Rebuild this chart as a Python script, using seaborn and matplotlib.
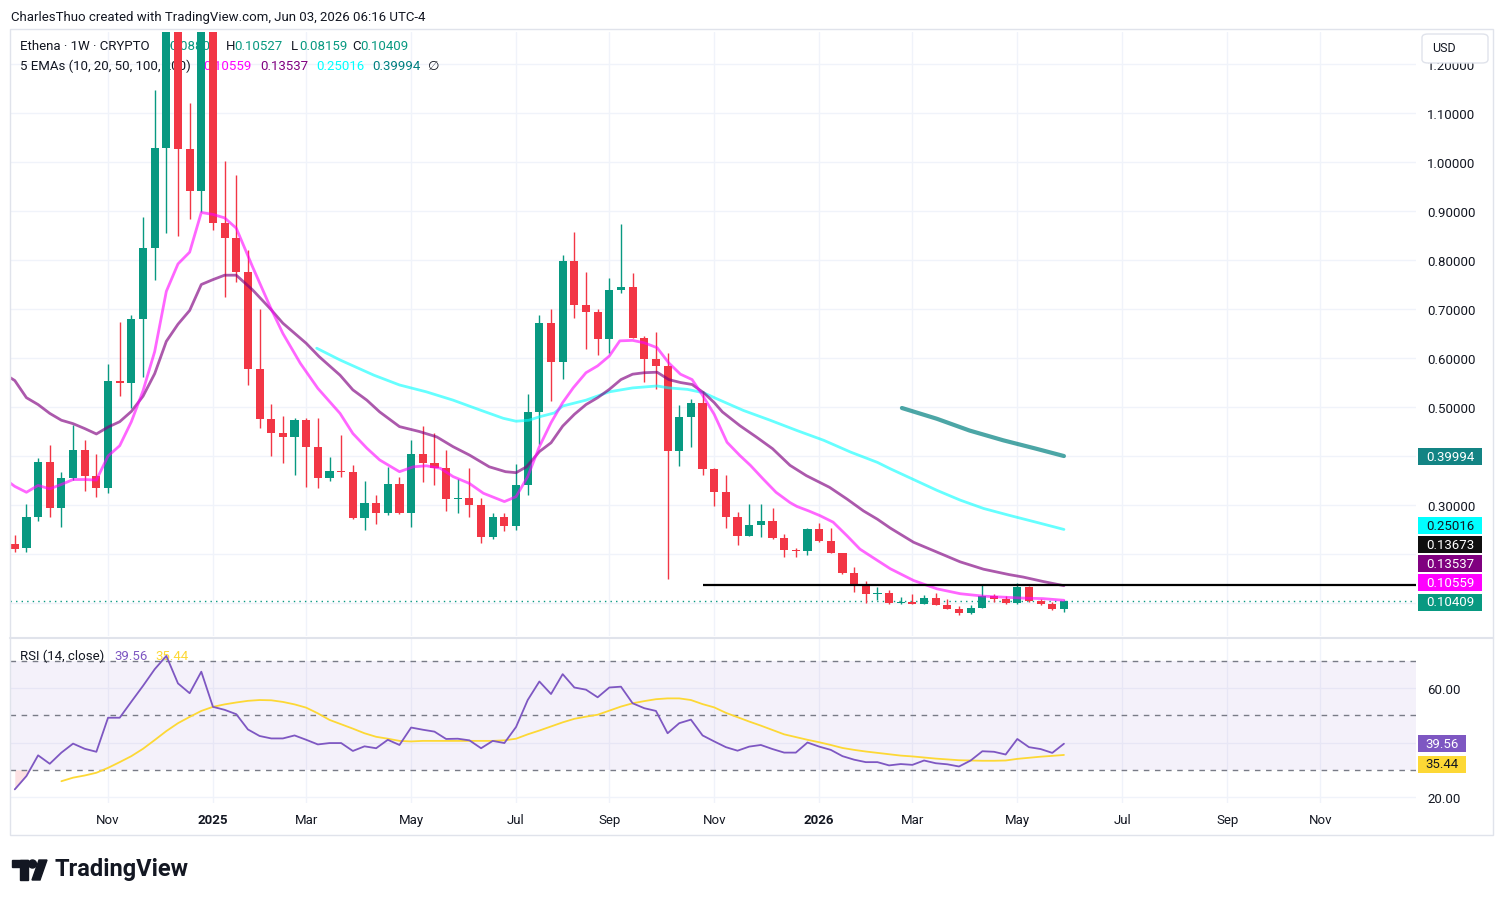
import numpy as np
import pandas as pd
import matplotlib
matplotlib.use("Agg")
import matplotlib.pyplot as plt
import matplotlib.patches as mpatches
from matplotlib.lines import Line2D
import seaborn as sns

# -------------------------------
# Data: Ethena 1W candles, first bar = week of 2024-09-09
# -------------------------------
opens = [0.221, 0.212, 0.275, 0.387, 0.293, 0.356, 0.412, 0.360, 0.335, 0.554,
         0.550, 0.680, 0.825, 1.028, 1.30, 1.026, 0.940, 1.29, 0.876, 0.844,
         0.776, 0.577, 0.475, 0.446, 0.439, 0.473, 0.418, 0.356, 0.370, 0.368,
         0.273, 0.305, 0.283, 0.343, 0.283, 0.405, 0.386, 0.376, 0.312, 0.314,
         0.301, 0.235, 0.275, 0.258, 0.341, 0.490, 0.671, 0.592, 0.798, 0.708,
         0.694, 0.638, 0.738, 0.744, 0.641, 0.599, 0.584, 0.410, 0.480, 0.509,
         0.374, 0.326, 0.275, 0.236, 0.259, 0.267, 0.232, 0.209, 0.206, 0.251,
         0.227, 0.203, 0.161, 0.135, 0.118, 0.121, 0.100, 0.103, 0.098, 0.110,
         0.095, 0.088, 0.080, 0.090, 0.114, 0.108, 0.100, 0.133, 0.104, 0.097, 0.08803]
highs = [0.239, 0.303, 0.396, 0.422, 0.368, 0.463, 0.433, 0.405, 0.587, 0.674,
         0.688, 0.888, 1.146, 1.36, 1.33, 1.121, 1.32, 1.30, 1.003, 0.973,
         0.820, 0.699, 0.506, 0.482, 0.477, 0.477, 0.477, 0.397, 0.443, 0.382,
         0.349, 0.320, 0.378, 0.358, 0.433, 0.461, 0.446, 0.412, 0.353, 0.375,
         0.314, 0.283, 0.284, 0.383, 0.526, 0.687, 0.701, 0.810, 0.857, 0.776,
         0.699, 0.764, 0.873, 0.774, 0.645, 0.653, 0.611, 0.505, 0.517, 0.533,
         0.375, 0.361, 0.285, 0.302, 0.302, 0.294, 0.241, 0.213, 0.253, 0.263,
         0.253, 0.203, 0.174, 0.144, 0.133, 0.126, 0.112, 0.119, 0.116, 0.120,
         0.109, 0.094, 0.095, 0.137, 0.119, 0.114, 0.141, 0.134, 0.109, 0.102, 0.10527]
lows = [0.204, 0.205, 0.267, 0.275, 0.256, 0.351, 0.328, 0.317, 0.324, 0.522,
        0.498, 0.561, 0.760, 0.855, 0.848, 0.883, 0.897, 0.862, 0.725, 0.755,
        0.545, 0.458, 0.400, 0.385, 0.361, 0.336, 0.334, 0.348, 0.358, 0.271,
        0.250, 0.261, 0.280, 0.282, 0.256, 0.346, 0.341, 0.288, 0.283, 0.276,
        0.222, 0.230, 0.246, 0.249, 0.320, 0.424, 0.512, 0.558, 0.682, 0.619,
        0.606, 0.610, 0.733, 0.640, 0.551, 0.537, 0.150, 0.380, 0.419, 0.361,
        0.299, 0.254, 0.219, 0.236, 0.234, 0.230, 0.193, 0.193, 0.198, 0.225,
        0.203, 0.159, 0.123, 0.101, 0.107, 0.099, 0.097, 0.097, 0.097, 0.095,
        0.087, 0.076, 0.078, 0.089, 0.103, 0.098, 0.099, 0.102, 0.095, 0.085, 0.08159]
closes = [0.211, 0.275, 0.387, 0.293, 0.356, 0.412, 0.360, 0.335, 0.554, 0.550,
          0.680, 0.825, 1.028, 1.30, 1.026, 0.940, 1.29, 0.876, 0.844, 0.776,
          0.577, 0.475, 0.446, 0.439, 0.473, 0.418, 0.356, 0.370, 0.368, 0.273,
          0.305, 0.283, 0.343, 0.283, 0.405, 0.386, 0.376, 0.312, 0.314, 0.301,
          0.235, 0.275, 0.258, 0.341, 0.490, 0.671, 0.592, 0.798, 0.708, 0.694,
          0.638, 0.738, 0.744, 0.641, 0.599, 0.584, 0.410, 0.480, 0.509, 0.374,
          0.326, 0.275, 0.236, 0.259, 0.267, 0.232, 0.209, 0.206, 0.251, 0.227,
          0.203, 0.161, 0.135, 0.118, 0.120, 0.100, 0.103, 0.098, 0.110, 0.095,
          0.088, 0.080, 0.090, 0.114, 0.108, 0.100, 0.133, 0.104, 0.097, 0.088, 0.10409]

# EMA lines read at bar positions
ema10_x = [-0.4, 0, 1, 2, 3, 4, 5, 6, 7, 8, 9, 10, 11, 12, 13, 14, 15, 16, 17, 18, 19,
           20.4, 21.9, 23, 24.5, 26, 27.9, 29, 30.2, 31.3, 32.5, 33, 34.2, 35.3, 36.5, 37.6, 39, 40.2, 42, 43, 44, 45,
           46, 47, 47.9, 49, 50, 51, 51.9, 53, 54, 55.1, 56.1, 57.1, 58.1, 59, 60,
           61.1, 62.2, 63.1, 64.2, 65.3, 66.5, 67.1, 68.1, 69.1, 70.2, 71.4, 72.5, 73.6, 75.1,
           77.1, 79.1, 81.1, 83.1, 84.8, 86.5, 88.2, 90]
ema10_y = [0.345, 0.338, 0.326, 0.340, 0.333, 0.342, 0.352, 0.352, 0.351, 0.400, 0.421, 0.470, 0.533, 0.613, 0.736, 0.792, 0.816, 0.897, 0.893, 0.886, 0.865,
           0.786, 0.705, 0.650, 0.589, 0.538, 0.487, 0.446, 0.416, 0.392, 0.375, 0.368, 0.378, 0.380, 0.375, 0.358, 0.344, 0.324, 0.307, 0.317, 0.358, 0.419,
           0.468, 0.509, 0.539, 0.570, 0.584, 0.604, 0.635, 0.636, 0.631, 0.621, 0.590, 0.567, 0.556, 0.524, 0.485,
           0.428, 0.401, 0.381, 0.353, 0.326, 0.305, 0.297, 0.288, 0.278, 0.265, 0.237, 0.210, 0.193, 0.170,
           0.146, 0.129, 0.119, 0.114, 0.112, 0.110, 0.109, 0.10559]
ema20_x = [-0.4, 0, 1, 2, 3, 4, 5, 6, 7, 8, 9, 10, 11, 12, 13, 14, 15, 16, 17, 18, 19,
           20.4, 21.9, 23, 25, 26.1, 27.9, 29, 30.2, 31.3, 33, 34.7, 36.2, 37.6, 39, 40.7, 42.1, 43, 43.9, 45,
           46, 47, 48, 49, 50, 51, 52, 53, 54,
           55.1, 56.1, 57.1, 58.1, 59.1, 60, 60.7,
           62.2, 63.6, 65, 66.5, 67.9, 69.9, 71.4, 72.8, 74, 75.1,
           77.1, 79.1, 81.1, 83.1, 85.3, 86.5, 88.2, 90]
ema20_y = [0.560, 0.554, 0.519, 0.505, 0.487, 0.473, 0.466, 0.456, 0.445, 0.459, 0.470, 0.491, 0.522, 0.568, 0.634, 0.669, 0.697, 0.750, 0.760, 0.769, 0.769,
           0.739, 0.701, 0.671, 0.630, 0.603, 0.565, 0.535, 0.514, 0.490, 0.460, 0.450, 0.439, 0.419, 0.402, 0.378, 0.368, 0.366, 0.378, 0.409,
           0.427, 0.461, 0.485, 0.505, 0.519, 0.536, 0.556, 0.567, 0.570,
           0.571, 0.556, 0.550, 0.546, 0.529, 0.509, 0.490,
           0.462, 0.439, 0.415, 0.381, 0.360, 0.336, 0.312, 0.288, 0.271, 0.253,
           0.224, 0.204, 0.184, 0.169, 0.158, 0.153, 0.144, 0.13537]
ema50_x = [25.9, 27.9, 30.8, 33, 35.3, 37.6, 39.9, 41.9, 43, 44.1,
           45, 46.3, 47, 49, 51, 53, 55.1, 56.1, 57.7, 59.1,
           60.2, 62.5, 64.8, 67.1, 69.4, 71.7, 74, 75.1, 77.1, 79.1,
           81.1, 83.1, 85.3, 87.6, 90]
ema50_y = [0.620, 0.596, 0.565, 0.545, 0.531, 0.514, 0.494, 0.477, 0.471, 0.473,
           0.480, 0.488, 0.502, 0.514, 0.531, 0.539, 0.543, 0.539, 0.536, 0.529,
           0.517, 0.493, 0.473, 0.452, 0.432, 0.408, 0.387, 0.374, 0.352, 0.330,
           0.310, 0.293, 0.279, 0.265, 0.25016]
ema100_x = [76.1, 79.1, 81.9, 84.8, 87.6, 90]
ema100_y = [0.498, 0.476, 0.452, 0.432, 0.415, 0.39994]

level_price = 0.13673
level_start = 59

# RSI(14) and its MA
rsi = [22.8, 27.7, 35.3, 32.2, 36.3, 39.6, 37.7, 36.6, 49.1, 49.1,
       55.0, 60.8, 66.9, 71.8, 61.7, 58.1, 66.0, 53.1, 52.0, 50.4,
       44.8, 42.4, 41.5, 41.5, 42.6, 41.0, 39.3, 39.8, 39.8, 36.9,
       38.6, 37.9, 41.0, 39.1, 45.5, 44.7, 44.0, 41.3, 41.4, 40.8,
       37.9, 40.6, 39.8, 45.7, 55.6, 62.4, 57.8, 65.1, 60.2, 59.4,
       56.6, 60.2, 60.5, 54.4, 52.6, 51.6, 43.4, 47.1, 48.4, 42.6,
       40.4, 38.3, 37.0, 38.5, 39.1, 37.6, 36.3, 36.3, 40.0, 38.5,
       37.3, 35.0, 33.7, 32.8, 32.8, 31.6, 32.1, 31.8, 33.4, 32.4,
       32.0, 31.2, 33.4, 36.8, 36.6, 35.6, 41.3, 38.3, 37.6, 36.2, 39.56]
rsi_ma_start = 4
rsi_ma = [25.8, 27.1, 27.9, 28.9, 30.7, 32.8,
          35.0, 37.7, 40.9, 44.2, 47.1, 49.4, 51.6, 53.1, 54.0, 54.7,
          55.3, 55.6, 55.5, 54.9, 54.0, 52.8, 50.7, 48.3, 46.7, 45.1,
          43.4, 42.1, 41.4, 40.6, 40.4, 40.6, 40.6, 40.6, 40.6, 40.6,
          40.6, 40.6, 40.8, 41.4, 43.0, 44.4, 45.9, 47.4, 48.7, 49.5,
          50.2, 51.7, 53.2, 54.4, 55.2, 55.9, 56.2, 56.2, 55.6, 54.1,
          52.9, 50.9, 49.3, 47.7, 46.2, 44.6, 43.0, 42.0, 41.0, 40.1,
          39.1, 38.0, 37.3, 36.7, 36.2, 35.7, 35.2, 34.9, 34.5, 34.1,
          33.8, 33.5, 33.4, 33.3, 33.3, 33.4, 34.0, 34.4, 34.8, 35.1, 35.44]

first_week = "2024-09-09"
tick_months = ["2024-11", "2025-01", "2025-03", "2025-05", "2025-07", "2025-09", "2025-11",
               "2026-01", "2026-03", "2026-05", "2026-07", "2026-09", "2026-11"]
tick_labels = ["Nov", "2025", "Mar", "May", "Jul", "Sep", "Nov",
               "2026", "Mar", "May", "Jul", "Sep", "Nov"]

# -------------------------------
# Style
# -------------------------------
GREEN, RED = "#089981", "#f23645"
TXT = "#131722"
GRID = "#f0f3fa"
sns.set_theme(style="white")
plt.rcParams["font.family"] = ["Roboto", "DejaVu Sans"]

W, H = 1504, 904
fx = lambda px: px / W
fy = lambda py: 1 - py / H

fig = plt.figure(figsize=(W / 100, H / 100), dpi=100)
ax = fig.add_axes([fx(10), fy(637), fx(1416) - fx(10), fy(33) - fy(637)])
ax_rsi = fig.add_axes([fx(10), fy(804), fx(1416) - fx(10), fy(640) - fy(804)], sharex=ax)

# bar positions of month labels
dates = pd.date_range(first_week, periods=125, freq="7D")
months = np.array(dates.strftime("%Y-%m"))
tick_pos = [int(np.argmax(months == m)) for m in tick_months]

# -------------------------------
# Price pane
# -------------------------------
o, h, l, c = map(np.array, (opens, highs, lows, closes))
bars = np.arange(len(o))
col = np.where(c >= o, GREEN, RED)
ax.vlines(bars, l, h, colors=col, lw=1, zorder=3)
ax.bar(bars, np.maximum(np.abs(c - o), 0.0015), bottom=np.minimum(o, c), width=0.7,
       color=col, linewidth=0, zorder=3)

for xs, ys, colr, a, lw in [(ema100_x, ema100_y, "#008080", 0.7, 3),
                            (ema50_x, ema50_y, "#00ffff", 0.6, 2),
                            (ema20_x, ema20_y, "#800080", 0.65, 2),
                            (ema10_x, ema10_y, "#ff00ff", 0.6, 2)]:
    sns.lineplot(x=xs, y=ys, ax=ax, color=colr, alpha=a, lw=lw, sort=False, zorder=4)

xmax = 120.2
ax.hlines(level_price, level_start, xmax, color="black", lw=1.6, zorder=5)
ax.axhline(closes[-1], color=GREEN, lw=1, ls=(0, (1, 3)), zorder=2)

ax.set_xlim(-0.41, xmax)
ax.set_ylim(0.0327, 1.2653)
yt = np.round(np.arange(0.1, 1.21, 0.1), 2)
ax.set_yticks(yt)
ax.set_yticklabels(["" if v in (0.1, 0.2, 0.4) else f"{v:.5f}" for v in yt])
ax.yaxis.tick_right()
ax.tick_params(axis="y", length=0, pad=8, labelsize=9.5, colors=TXT)
ax.set_xticks(tick_pos)
ax.tick_params(axis="x", length=0, labelbottom=False)
ax.set_axisbelow(True)
ax.grid(True, color=GRID, lw=1)
ax.set_xlabel("")
ax.set_ylabel("")
for s in ax.spines.values():
    s.set_visible(False)

# -------------------------------
# RSI pane
# -------------------------------
rsi_arr = np.array(rsi)
ax_rsi.axhspan(30, 70, color="#7e57c2", alpha=0.08, lw=0, zorder=1)
ax_rsi.fill_between(bars, rsi_arr, 30, where=rsi_arr < 30, interpolate=True, color=RED, alpha=0.15, lw=0)
ax_rsi.fill_between(bars, rsi_arr, 70, where=rsi_arr > 70, interpolate=True, color=GREEN, alpha=0.15, lw=0)
for lvl in (70, 50, 30):
    ax_rsi.axhline(lvl, color="#787b86", lw=1, ls=(0, (4, 4)), zorder=2)
sns.lineplot(x=bars, y=rsi, ax=ax_rsi, color="#7e57c2", lw=1.3, zorder=4)
sns.lineplot(x=np.arange(rsi_ma_start, rsi_ma_start + len(rsi_ma)), y=rsi_ma, ax=ax_rsi,
             color="#fdd835", lw=1.3, zorder=3)

ax_rsi.set_ylim(17.8, 78.0)
ax_rsi.set_yticks([20, 40, 60])
ax_rsi.set_yticklabels(["20.00", "", "60.00"])
ax_rsi.yaxis.tick_right()
ax_rsi.tick_params(axis="y", length=0, pad=8, labelsize=9.5, colors=TXT)
ax_rsi.set_xticks(tick_pos)
ax_rsi.set_xticklabels(tick_labels)
ax_rsi.tick_params(axis="x", length=0, pad=7, labelsize=9.5, colors=TXT)
for t in ax_rsi.get_xticklabels():
    if t.get_text().isdigit():
        t.set_fontweight("bold")
ax_rsi.set_axisbelow(True)
ax_rsi.grid(True, color=GRID, lw=1)
ax_rsi.set_xlabel("")
ax_rsi.set_ylabel("")
for s in ax_rsi.spines.values():
    s.set_visible(False)

# -------------------------------
# Texts, legends, price tags
# -------------------------------
fig.text(fx(11), fy(17), "CharlesThuo created with TradingView.com, Jun 03, 2026 06:16 UTC-4",
         fontsize=9.5, color=TXT, va="center")

def legend_piece(px, py, s, colr, size=9.5):
    ax.text(fx(px), fy(py), s, transform=fig.transFigure, fontsize=size, color=colr,
            va="center", ha="left", zorder=1)

legend_piece(20, 47, "Ethena · 1W · CRYPTO", TXT)
for px, lab, val in [(161, "O", opens[-1]), (226, "H", highs[-1]), (291, "L", lows[-1]), (352, "C", closes[-1])]:
    legend_piece(px, 47, lab, TXT)
    legend_piece(px + 8, 47, f"{val:.5f}", GREEN)
legend_piece(20, 66, "5 EMAs (10, 20, 50, 100, 200)", TXT)
for px, val, colr in [(203, ema10_y[-1], "#ff00ff"), (260, ema20_y[-1], "#800080"),
                      (316, ema50_y[-1], "#00ffff"), (372, ema100_y[-1], "#008080")]:
    legend_piece(px, 66, f"{val:.5f}", colr)
legend_piece(428, 66, "∅", TXT)

ax_rsi.text(fx(20), fy(656), "RSI (14, close)", transform=fig.transFigure, fontsize=9.5, color=TXT, va="center")
ax_rsi.text(fx(114), fy(656), f"{rsi[-1]:.2f}", transform=fig.transFigure, fontsize=9.5, color="#7e57c2", va="center")
ax_rsi.text(fx(155), fy(656), f"{rsi_ma[-1]:.2f}", transform=fig.transFigure, fontsize=9.5, color="#fdd835", va="center")


def tag(yc, s, bg, fg, x0=1418, x1=1482, hh=17):
    fig.add_artist(mpatches.Rectangle((fx(x0), fy(yc + hh / 2)), fx(x1) - fx(x0), hh / H,
                                      transform=fig.transFigure, facecolor=bg, edgecolor="none", zorder=5))
    fig.text(fx((x0 + x1) / 2), fy(yc), s, ha="center", va="center", color=fg, fontsize=9.5, zorder=6)


tag(457.5, f"{ema100_y[-1]:.5f}", "#138484", "white")
tag(526.5, f"{ema50_y[-1]:.5f}", "#00ffff", TXT)
tag(545.5, f"{level_price:.5f}", "#0f0f0f", "white")
tag(564.5, f"{ema20_y[-1]:.5f}", "#800080", "white")
tag(583.5, f"{ema10_y[-1]:.5f}", "#ff00ff", "white")
tag(603, f"{closes[-1]:.5f}", GREEN, "white")
tag(744.5, f"{rsi[-1]:.2f}", "#7e57c2", "white", x1=1466)
tag(765, f"{rsi_ma[-1]:.2f}", "#fdd835", TXT, x1=1466)

# USD box (covers most of the top price label, as in the screenshot)
fig.add_artist(mpatches.FancyBboxPatch((fx(1422), fy(64)), fx(1488) - fx(1422), 29 / H,
                                       boxstyle="round,pad=0,rounding_size=0.004",
                                       transform=fig.transFigure, facecolor="white",
                                       edgecolor="#e0e3eb", lw=1, zorder=5))
fig.text(fx(1432), fy(49), "USD", fontsize=9, color=TXT, va="center", zorder=6)

# frame and pane separator
fig.add_artist(mpatches.Rectangle((fx(10), fy(836)), fx(1493) - fx(10), 806 / H, transform=fig.transFigure,
                                  facecolor="none", edgecolor="#e0e3eb", lw=1, zorder=4))
fig.add_artist(Line2D([fx(10), fx(1493)], [fy(638.5), fy(638.5)], transform=fig.transFigure,
                      color="#e0e3eb", lw=1.5, zorder=4))

# TradingView logo
logo = "#131722"
fig.add_artist(mpatches.Rectangle((fx(12), fy(868)), fx(28) - fx(12), 7 / H, transform=fig.transFigure, color=logo))
fig.add_artist(mpatches.Rectangle((fx(20), fy(881)), fx(28) - fx(20), 20 / H, transform=fig.transFigure, color=logo))
fig.add_artist(mpatches.Ellipse((fx(32.5), fy(865)), 8 / W, 8 / H, transform=fig.transFigure, color=logo))
fig.add_artist(mpatches.Polygon([(fx(32), fy(881)), (fx(40), fy(881)), (fx(47), fy(861)), (fx(39), fy(861))],
                                closed=True, transform=fig.transFigure, color=logo))
fig.text(fx(54), fy(870), "TradingView", fontsize=17, fontweight="bold", color=logo, va="center")

fig.savefig("out.png", dpi=100, facecolor="white")
